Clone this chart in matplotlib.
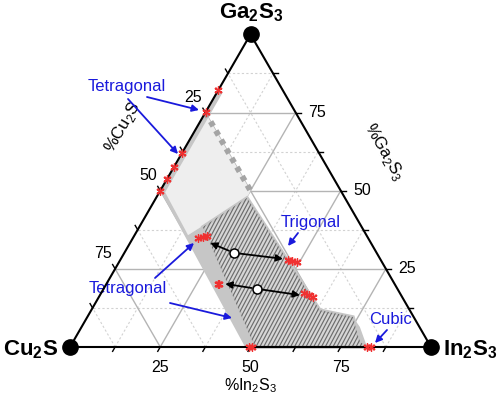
import numpy as np
import matplotlib
matplotlib.use("Agg")
import matplotlib.pyplot as plt
from matplotlib.patches import Polygon

plt.rcParams['font.family'] = ['Liberation Sans', 'DejaVu Sans']
plt.rcParams['mathtext.fontset'] = 'custom'
plt.rcParams['mathtext.rm'] = 'Liberation Sans'
plt.rcParams['mathtext.bf'] = 'Liberation Sans:bold'

S3 = np.sqrt(3) / 2

# ---------------- data (percent In2S3, percent Ga2S3) ----------------
tick_values = [25, 50, 75]
minor_values = [12.5, 37.5, 62.5, 87.5]

# light single-phase region (upper)
light_in = [0, 25, 25.2, 14.8, 0]
light_ga = [75, 50, 47.7, 35.8, 50]

# medium gray (tetragonal) band
band_in = [0, 1.6, 1.6, 14.8, 25.2, 63.3, 73.6, 77.1, 82.3, 48.5, 0]
band_ga = [82.2, 81.5, 49.5, 35.8, 47.7, 11.8, 9.6, 6.4, 0, 0, 50]

# hatched (two-phase) region
hatch_in = [17.6, 25.2, 63.3, 73.6, 74.8, 75.9, 77.1, 78.3, 79.6, 82.3, 51.2]
hatch_ga = [38.4, 47.7, 11.8, 9.6, 8.0, 6.4, 4.8, 3.2, 1.6, 0, 0]

# dotted boundary (Cu2S = 25 %)
dot_in = [0, 25]
dot_ga = [75, 50]

# measured compositions (red markers)
pts_in = [0, 0, 0, 0, 0, 0,
          18.0, 19.2, 20.2,
          46.5, 47.7, 49.3,
          30.9, 31.4,
          56.2, 57.9, 59.3,
          49.5, 50.5,
          82.3, 83.3]
pts_ga = [82.2, 75.2, 62.1, 57.6, 53.7, 50.0,
          34.9, 35.2, 35.5,
          27.8, 27.5, 27.2,
          20.2, 20.0,
          17.3, 16.6, 16.0,
          0, 0,
          0, 0]

# nominal compositions (open circles) and tie-line ends
nom_labels = ['x=0.50', 'x=0.30']
nom_in = [30.4, 42.5]
nom_ga = [30.1, 18.6]
left_in = [22.2, 32.9]
left_ga = [33.3, 20.2]
right_in = [44.9, 55.4]
right_ga = [28.2, 16.6]


def xy(i, g):
    i = np.asarray(i, float) / 100
    g = np.asarray(g, float) / 100
    return i + g / 2, g * S3


def px(x, y):
    # pixel -> data helper for label placement
    return (x - 70) / 361, (347 - y) / 361


fig = plt.figure(figsize=(5.0, 3.98), dpi=100)
ax = fig.add_axes([0, 0, 1, 1])
ax.set_xlim(-70 / 361, 430 / 361)
ax.set_ylim(-51 / 361, 347 / 361)
ax.axis('off')

# ---------------- grid ----------------
for v, col, ls, lw in [(m, '#d2d2d2', (0, (2, 2)), 0.8) for m in minor_values] + \
                       [(t, '#b4b4b4', '-', 1.0) for t in tick_values]:
    x, y = xy([v, v], [0, 100 - v]); ax.plot(x, y, color=col, ls=ls, lw=lw, zorder=1)
    x, y = xy([0, 100 - v], [v, v]); ax.plot(x, y, color=col, ls=ls, lw=lw, zorder=1)
    x, y = xy([100 - v, 0], [0, 100 - v]); ax.plot(x, y, color=col, ls=ls, lw=lw, zorder=1)

# ---------------- regions ----------------
x, y = xy(light_in, light_ga)
ax.add_patch(Polygon(np.c_[x, y], closed=True, fc='#eeeeee', ec='none', zorder=2))
x, y = xy(band_in, band_ga)
ax.add_patch(Polygon(np.c_[x, y], closed=True, fc='#c6c6c6', ec='none', zorder=3))
x, y = xy(hatch_in, hatch_ga)
hp = Polygon(np.c_[x, y], closed=True, fc='#d6d6d6', ec='#c6c6c6', lw=2.5, zorder=4)
ax.add_patch(hp)
ang = np.deg2rad(62)
d = np.array([np.cos(ang), np.sin(ang)])
nrm = np.array([-d[1], d[0]])
step = 3.4 / 361
for c in np.arange(-1.5, 1.5, step):
    p0 = c * nrm - 2 * d
    p1 = c * nrm + 2 * d
    ln, = ax.plot([p0[0], p1[0]], [p0[1], p1[1]], color='#6c6c6c', lw=0.85, zorder=5)
    ln.set_clip_path(hp)
x, y = xy(dot_in, dot_ga)
ax.plot(x, y, color='#a4a4a4', lw=4.2, ls=(0, (0.9, 0.9)), zorder=6, solid_capstyle='butt')

# ---------------- triangle frame ----------------
x, y = xy([0, 100, 0, 0], [0, 0, 100, 0])
ax.plot(x, y, color='black', lw=1.5, zorder=8, solid_joinstyle='miter')
ax.plot(x[:3], y[:3], 'o', color='black', ms=11, zorder=9, clip_on=False)

tl = 5 / 361
for v in tick_values + minor_values:
    bx, by = xy(v, 0)
    ax.plot([bx, bx - tl * 0.5], [by, by - tl * S3], color='black', lw=1, zorder=8)
    rx, ry = xy(100 - v, v)
    ax.plot([rx, rx + tl], [ry, ry], color='black', lw=1, zorder=8)
    lx, ly = xy(0, 100 - v)
    ax.plot([lx, lx - tl * 0.5], [ly, ly + tl * S3], color='black', lw=1, zorder=8)

fs_tick = 11.5
for v in tick_values:
    bx, by = xy(v, 0)
    ax.text(bx, by - 20 / 361, f'{v:g}', ha='center', va='center', fontsize=fs_tick)
    rx, ry = xy(100 - v, v)
    ax.text(rx + 21 / 361, ry, f'{v:g}', ha='center', va='center', fontsize=fs_tick)
    lx, ly = xy(0, 100 - v)
    ax.text(lx - 12 / 361, ly + 15 / 361, f'{v:g}', ha='center', va='center', fontsize=fs_tick)

ax.text(*px(250, 386), '%In$_2$S$_3$', ha='center', va='center', fontsize=11.5)
ax.text(*px(123, 127), '%Cu$_2$S', ha='center', va='center', fontsize=12, rotation=60)
ax.text(*px(384, 152), '%Ga$_2$S$_3$', ha='center', va='center', fontsize=12, rotation=-60)

fs_v = 16
ax.text(*px(251, 13), 'Ga$_\\mathbf{2}$S$_\\mathbf{3}$', ha='center', va='center', fontsize=fs_v, fontweight='bold')
ax.text(*px(31, 350), 'Cu$_\\mathbf{2}$S', ha='center', va='center', fontsize=fs_v, fontweight='bold')
ax.text(*px(470, 350), 'In$_\\mathbf{2}$S$_\\mathbf{3}$', ha='center', va='center', fontsize=fs_v, fontweight='bold')

# ---------------- markers ----------------
x, y = xy(pts_in, pts_ga)
ax.plot(x, y, ls='none', marker=(6, 2, 0), ms=6, mew=0.9, color='#f03030', zorder=10)
ax.plot(x, y, ls='none', marker='x', ms=4, mew=1.0, color='#f03030', zorder=10)

x, y = xy(nom_in, nom_ga)
ax.plot(x, y, ls='none', marker='o', ms=6.5, mfc='white', mec='black', mew=1.1, zorder=11)
for k in range(len(nom_in)):
    c = xy(nom_in[k], nom_ga[k])
    for ti, tg in [(left_in[k], left_ga[k]), (right_in[k], right_ga[k])]:
        ax.annotate('', xy=xy(ti, tg), xytext=c,
                    arrowprops=dict(arrowstyle='-|>', color='black', lw=1.3,
                                    mutation_scale=10, shrinkA=4, shrinkB=0), zorder=11)
ax.text(*px(244, 240), nom_labels[0], ha='center', va='center', fontsize=10.5)
ax.text(*px(260, 298), nom_labels[1], ha='center', va='center', fontsize=10.5)

# ---------------- phase labels ----------------
blue = '#1a1adc'
fs_lab = 12
ax.text(*px(127, 86), 'Tetragonal', ha='center', va='center', fontsize=fs_lab, color=blue)
ax.text(*px(128, 288), 'Tetragonal', ha='center', va='center', fontsize=fs_lab, color=blue)
ax.text(*px(311, 222), 'Trigonal', ha='center', va='center', fontsize=fs_lab, color=blue)
ax.text(*px(390, 320), 'Cubic', ha='center', va='center', fontsize=fs_lab, color=blue)


def barrow(a, b):
    ax.annotate('', xy=px(*b), xytext=px(*a),
                arrowprops=dict(arrowstyle='-|>', color=blue, lw=1.3,
                                mutation_scale=10, shrinkA=0, shrinkB=0), zorder=12)


barrow((147, 97), (199, 110))
barrow((128, 99), (178, 154))
barrow((155, 278), (194, 243))
barrow((170, 303), (232, 318))
barrow((298, 233), (288, 246))
barrow((387, 330), (375, 343))

fig.savefig('out.png', dpi=100)
